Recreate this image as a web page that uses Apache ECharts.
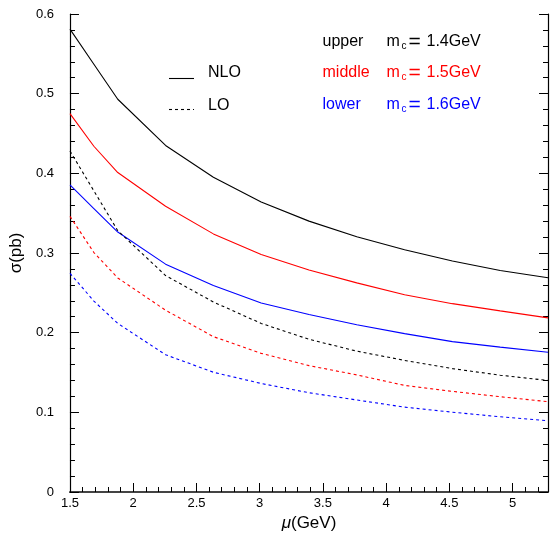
<!DOCTYPE html>
<html><head><meta charset="utf-8">
<script src="https://cdn.jsdelivr.net/npm/echarts@6/dist/echarts.min.js"></script>
<style>html,body{margin:0;padding:0;background:#fff}#c{width:551px;height:537px}</style>
</head><body><div id="c"></div>
<script>
// x values (mu in GeV)
const mu = [1.5, 1.689, 1.878, 2.256, 2.634, 3.012, 3.39, 3.768, 4.146, 4.524, 4.902, 5.28];
// NLO (solid)
const nloUpper  = [0.581, 0.537, 0.493, 0.435, 0.395, 0.364, 0.340, 0.3205, 0.304, 0.290, 0.278, 0.269];
const nloMiddle = [0.475, 0.434, 0.401, 0.3586, 0.324, 0.298, 0.2787, 0.2625, 0.2476, 0.2364, 0.2273, 0.2186];
const nloLower  = [0.3855, 0.3557, 0.3263, 0.286, 0.2592, 0.2373, 0.2228, 0.210, 0.1988, 0.1888, 0.1818, 0.1755];
// LO (dashed)
const loUpper  = [0.428, 0.378, 0.328, 0.2717, 0.2385, 0.2116, 0.1917, 0.1768, 0.1652, 0.1549, 0.1466, 0.140];
const loMiddle = [0.346, 0.3006, 0.2687, 0.2282, 0.195, 0.174, 0.1586, 0.147, 0.1338, 0.1263, 0.1196, 0.1134];
const loLower  = [0.2745, 0.2397, 0.2116, 0.1723, 0.1503, 0.1362, 0.1246, 0.1155, 0.1065, 0.1002, 0.0944, 0.0894];

const xMin = 1.5, xMax = 5.28, yMin = 0, yMax = 0.6;
const xMajor = 0.5, xMinor = 0.1, yMajor = 0.1, yMinor = 0.02;

const FONT = '"Liberation Sans", Arial, sans-serif';
const zip = a => mu.map((x, i) => [x, a[i]]);
const isMult = (v, s) => Math.abs(v / s - Math.round(v / s)) < 1e-6;
const fmt = v => String(Math.round(v * 100) / 100);

function mkLine(name, data, color, dashed) {
  return {
    name, type: 'line', data: zip(data), xAxisIndex: 0, yAxisIndex: 0,
    showSymbol: false, symbol: 'none', silent: true,
    lineStyle: { color, width: 1.1, type: dashed ? [3, 3] : 'solid' }
  };
}

const tickCommon = { show: true, inside: true, lineStyle: { color: '#000', width: 1 } };

const option = {
  animation: false,
  backgroundColor: '#fff',
  grid: { left: 67, right: 3, top: 14, bottom: 40 },
  xAxis: [
    { type: 'value', position: 'bottom', min: xMin, max: xMax, interval: xMinor,
      axisLine: { show: true, lineStyle: { color: '#000', width: 1.2 } },
      axisTick: Object.assign({ length: 5 }, tickCommon),
      splitLine: { show: false },
      axisLabel: { margin: 5, color: '#000', fontSize: 13, fontFamily: FONT,
        formatter: v => (isMult(v, xMajor) && v < xMax - 1e-6) ? fmt(v) : '' },
      name: '{i|μ}(GeV)', nameLocation: 'middle', nameGap: 23,
      nameTextStyle: { color: '#000', fontSize: 17, fontFamily: FONT,
        rich: { i: { fontStyle: 'italic', fontSize: 17, fontFamily: FONT, color: '#000' } } }
    },
    { type: 'value', position: 'bottom', min: xMin, max: xMax, interval: xMajor,
      axisLine: { show: false }, axisTick: Object.assign({ length: 9 }, tickCommon),
      axisLabel: { show: false }, splitLine: { show: false } },
    { type: 'value', position: 'top', min: xMin, max: xMax,
      axisLine: { show: true, lineStyle: { color: '#444', width: 2 } },
      axisTick: { show: false }, axisLabel: { show: false }, splitLine: { show: false } }
  ],
  yAxis: [
    { type: 'value', position: 'left', min: yMin, max: yMax, interval: yMinor,
      axisLine: { show: true, lineStyle: { color: '#000', width: 1.2 } },
      axisTick: Object.assign({ length: 5 }, tickCommon),
      splitLine: { show: false },
      axisLabel: { margin: 16, color: '#000', fontSize: 13, fontFamily: FONT,
        formatter: v => isMult(v, yMajor) ? fmt(v) : '' },
      name: 'σ(pb)', nameLocation: 'middle', nameGap: 37,
      nameTextStyle: { color: '#000', fontSize: 17, fontFamily: FONT }
    },
    { type: 'value', position: 'left', min: yMin, max: yMax, interval: yMajor,
      axisLine: { show: false }, axisTick: Object.assign({ length: 9 }, tickCommon),
      axisLabel: { show: false }, splitLine: { show: false } },
    { type: 'value', position: 'right', min: yMin, max: yMax, interval: yMinor,
      axisLine: { show: true, lineStyle: { color: '#000', width: 1.2 } },
      axisTick: Object.assign({ length: 5 }, tickCommon),
      axisLabel: { show: false }, splitLine: { show: false } },
    { type: 'value', position: 'right', min: yMin, max: yMax, interval: yMajor,
      axisLine: { show: false }, axisTick: Object.assign({ length: 9 }, tickCommon),
      axisLabel: { show: false }, splitLine: { show: false } }
  ],
  series: [
    mkLine('NLO upper', nloUpper, '#000000', false),
    mkLine('NLO middle', nloMiddle, '#ff0000', false),
    mkLine('NLO lower', nloLower, '#0000ff', false),
    mkLine('LO upper', loUpper, '#000000', true),
    mkLine('LO middle', loMiddle, '#ff0000', true),
    mkLine('LO lower', loLower, '#0000ff', true)
  ],
  graphic: []
};

// legend (line styles)
const g = option.graphic;
g.push({ type: 'line', shape: { x1: 169, y1: 78.5, x2: 194, y2: 78.5 }, style: { stroke: '#000', lineWidth: 1.1 } });
g.push({ type: 'line', shape: { x1: 169, y1: 109.5, x2: 194, y2: 109.5 }, style: { stroke: '#000', lineWidth: 1.1, lineDash: [3, 3] } });
g.push({ type: 'text', x: 208, y: 73, style: { text: 'NLO', fill: '#000', font: '16px ' + FONT, verticalAlign: 'middle' } });
g.push({ type: 'text', x: 208, y: 105.5, style: { text: 'LO', fill: '#000', font: '16px ' + FONT, verticalAlign: 'middle' } });

// mass annotations
const rows = [
  { label: 'upper', val: '1.4GeV', color: '#000000', y: 42 },
  { label: 'middle', val: '1.5GeV', color: '#ff0000', y: 73 },
  { label: 'lower', val: '1.6GeV', color: '#0000ff', y: 105 }
];
rows.forEach(r => {
  const st = (t, size) => ({ text: t, fill: r.color, font: size + 'px ' + FONT, verticalAlign: 'middle' });
  g.push({ type: 'text', x: 322.5, y: r.y, style: st(r.label, 16) });
  g.push({ type: 'text', x: 386.5, y: r.y, style: st('m', 16) });
  g.push({ type: 'text', x: 401.5, y: r.y + 4.5, style: st('c', 10) });
  g.push({ type: 'text', x: 408.5, y: r.y, style: st('=', 21) });
  g.push({ type: 'text', x: 426.5, y: r.y, style: st(r.val, 16) });
});

const chart = echarts.init(document.getElementById('c'), null, { renderer: 'canvas' });
chart.setOption(option);
</script>
</body></html>
